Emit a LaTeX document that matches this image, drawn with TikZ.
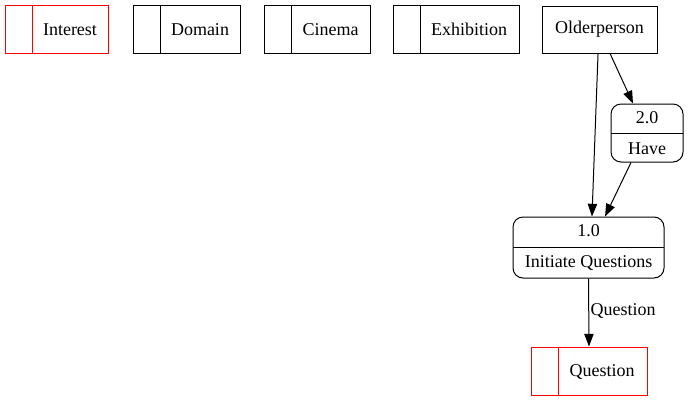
\documentclass[tikz,border=0pt]{standalone}
\usepackage{fontspec}
\setmainfont{Liberation Serif}
\usetikzlibrary{arrows.meta}
\begin{document}
\begin{tikzpicture}[x=0.75pt,y=-0.75pt,
  every node/.style={font=\fontsize{13.5}{16}\selectfont},
  line width=0.75pt,
  store/.style={draw, rectangle, inner sep=0pt, minimum height=36pt,
    path picture={\draw[line width=0.75pt] ([xshift=20.25pt]path picture bounding box.north west) -- ([xshift=20.25pt]path picture bounding box.south west);}},
  entity/.style={draw, rectangle, inner sep=0pt, minimum height=35.25pt},
  proc/.style={draw, rectangle, rounded corners=7.5pt, inner sep=0pt, align=center,
    font=\fontsize{13.5}{23.5}\selectfont,
    path picture={\draw[line width=0.75pt] (path picture bounding box.west) -- (path picture bounding box.east);}},
  flow/.style={-{Triangle[length=9.5pt,width=7pt]}},
  lbl/.style={inner sep=1pt}
]
\useasboundingbox (0,0) rectangle (688,401);

% data stores
\node[store, red, minimum width=77.25pt] (interest) at (56.5,29) {};
\node (interest-t) at (70,29.5) {Interest};
\node[store, minimum width=80.25pt] (domain) at (186.5,29) {};
\node (domain-t) at (200,29.5) {Domain};
\node[store, minimum width=79.5pt] (cinema) at (317,29) {};
\node (cinema-t) at (330.5,29.5) {Cinema};
\node[store, minimum width=94.5pt] (exhibition) at (456,29) {};
\node (exhibition-t) at (469,29.5) {Exhibition};

% entity
\node[entity, minimum width=86.25pt] (older) at (599.5,29.5) {Olderperson};

% processes
\node[proc, minimum width=54pt, minimum height=43.5pt] (p2) at (647,133) {2.0\\Have};
\node[proc, minimum width=113.25pt, minimum height=45.75pt] (p1) at (588.5,247.5) {1.0\\Initiate Questions};

% question store
\node[store, red, minimum width=87pt] (qstore) at (589,371) {};
\node (qstore-t) at (602,371.5) {Question};

% flows
\draw[flow] ([xshift=-1.1pt]older.south) -- ([xshift=2.6pt]p1.north);
\draw[flow] ([xshift=7.9pt]older.south) -- ([xshift=-10.5pt]p2.north);
\draw[flow] ([xshift=-12pt]p2.south) -- ([xshift=12.4pt]p1.north);
\draw[flow] (p1.south) -- node[lbl, anchor=west, pos=0.48] {Question} (qstore.north);
\end{tikzpicture}
\end{document}
